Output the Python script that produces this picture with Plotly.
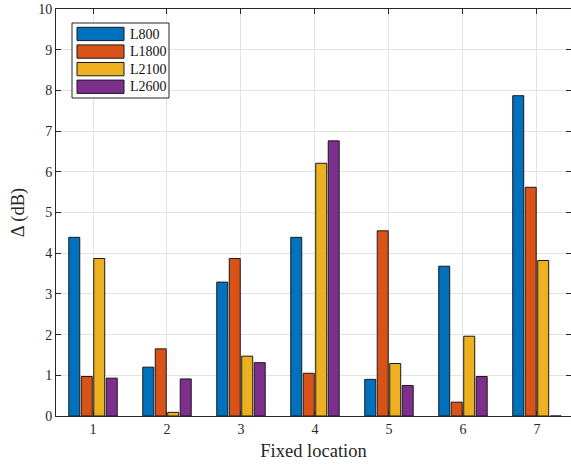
import plotly.graph_objects as go

locations = [1, 2, 3, 4, 5, 6, 7]
series_names = ["L800", "L1800", "L2100", "L2600"]
L800 = [4.39, 1.20, 3.29, 4.39, 0.90, 3.68, 7.87]
L1800 = [0.97, 1.65, 3.87, 1.05, 4.55, 0.34, 5.62]
L2100 = [3.87, 0.09, 1.47, 6.21, 1.29, 1.96, 3.82]
L2600 = [0.93, 0.91, 1.31, 6.76, 0.75, 0.97, 0.0]
colors = ["#0072BD", "#D95319", "#EDB120", "#7E2F8E"]

W, H = 571, 465
ML, MR, MT, MB = 56, 0, 9, 49
PW, PH = W - ML - MR, H - MT - MB

FONT = "Liberation Serif, Times New Roman, serif"

fig = go.Figure()
for name, vals, col in zip(series_names, [L800, L1800, L2100, L2600], colors):
    fig.add_trace(go.Bar(x=locations, y=vals, name=name,
                         marker=dict(color=col, line=dict(color="#1a1a1a", width=1)),
                         showlegend=False))

def px2paper(px, py):
    return (px - ML) / PW, (H - MB - py) / PH

shapes = []
annotations = []
x0, y0 = px2paper(72, 98)
x1, y1 = px2paper(169, 23)
shapes.append(dict(type="rect", xref="paper", yref="paper", x0=x0, y0=y0, x1=x1, y1=y1,
                   line=dict(color="#262626", width=1), fillcolor="white", layer="above"))
for i, (name, col) in enumerate(zip(series_names, colors)):
    top = 27.3 + i * 17.6
    sx0, sy0 = px2paper(77, top + 13.3)
    sx1, sy1 = px2paper(124, top)
    shapes.append(dict(type="rect", xref="paper", yref="paper", x0=sx0, y0=sy0, x1=sx1, y1=sy1,
                       line=dict(color="#1a1a1a", width=1), fillcolor=col, layer="above"))
    tx, ty = px2paper(128, top + 6.8)
    annotations.append(dict(xref="paper", yref="paper", x=tx, y=ty, text=name, showarrow=False,
                            xanchor="left", yanchor="middle",
                            font=dict(family=FONT, size=14, color="#111")))

fig.update_layout(
    width=W, height=H, autosize=False,
    margin=dict(l=ML, r=MR, t=MT, b=MB, autoexpand=False),
    paper_bgcolor="white", plot_bgcolor="white",
    barmode="group", bargap=0.325, bargroupgap=0.12,
    font=dict(family=FONT, size=13, color="#262626"),
    shapes=shapes, annotations=annotations,
    xaxis=dict(range=[0.5, 7.46], tickmode="array", tickvals=locations,
               ticktext=[str(v) for v in locations], automargin=False,
               showgrid=True, gridcolor="#e3e3e3", gridwidth=1,
               showline=True, linecolor="#262626", linewidth=1, mirror="ticks",
               ticks="inside", ticklen=5, tickcolor="#262626",
               zeroline=False,
               title=dict(text="Fixed location", font=dict(family=FONT, size=18.5), standoff=8),
               tickfont=dict(family=FONT, size=14)),
    yaxis=dict(range=[0, 10], tickmode="array", tickvals=list(range(0, 11)), automargin=False,
               showgrid=True, gridcolor="#e3e3e3", gridwidth=1,
               showline=True, linecolor="#262626", linewidth=1, mirror="ticks",
               ticks="inside", ticklen=5, tickcolor="#262626",
               zeroline=False,
               title=dict(text="Δ (dB)", font=dict(family=FONT, size=18.5), standoff=8),
               tickfont=dict(family=FONT, size=14)),
)

fig.write_html("out.html", config={"displayModeBar": False},
               post_script="document.body.style.margin='0';")
